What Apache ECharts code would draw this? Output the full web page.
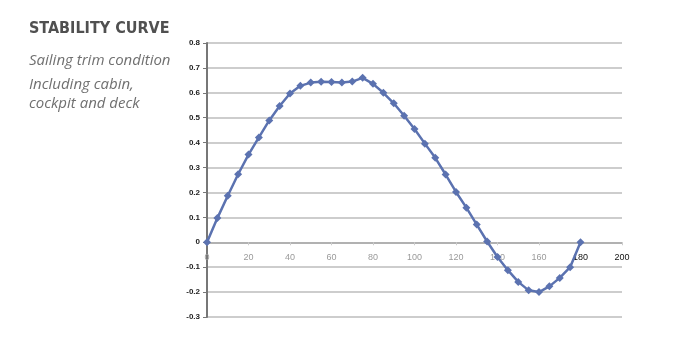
<!DOCTYPE html>
<html><head><meta charset="utf-8">
<script src="https://cdn.jsdelivr.net/npm/echarts@6/dist/echarts.min.js"></script>
<style>html,body{margin:0;padding:0;background:#fff}#c{width:696px;height:361px}</style>
</head><body><div id="c"></div>
<script>
const heelAngles = [0,5,10,15,20,25,30,35,40,45,50,55,60,65,70,75,80,85,90,95,100,105,110,115,120,125,130,135,140,145,150,155,160,165,170,175,180];
const gzValues = [0,0.097,0.187,0.273,0.352,0.421,0.489,0.547,0.597,0.628,0.641,0.644,0.643,0.641,0.645,0.660,0.636,0.600,0.558,0.508,0.455,0.396,0.339,0.272,0.202,0.139,0.071,0.003,-0.059,-0.112,-0.159,-0.193,-0.200,-0.177,-0.143,-0.100,0];
const titleText = 'STABILITY CURVE';
const subtitleLines = ['Sailing trim condition','Including cabin,','cockpit and deck'];

const gridTop = 43, gridBottom = 44, chartH = 361;
const yMin = -0.3, yMax = 0.8;
const plotH = chartH - gridTop - gridBottom;
const zeroOffset = -plotH * (0 - yMin) / (yMax - yMin);

const chart = echarts.init(document.getElementById('c'));
chart.setOption({
  animation: false,
  grid: {left: 207, right: 74, top: gridTop, bottom: gridBottom},
  graphic: [
    {type:'text', left: 29, top: 21, style:{text: titleText, font:'bold 16px "DejaVu Sans Condensed", sans-serif', fill:'#505050'}},
    {type:'text', left: 29, top: 53, style:{text: subtitleLines[0], font:'italic 15px "Open Sans", sans-serif', fill:'#707070'}},
    {type:'text', left: 29, top: 77, style:{text: subtitleLines[1], font:'italic 15px "Open Sans", sans-serif', fill:'#707070'}},
    {type:'text', left: 29, top: 96, style:{text: subtitleLines[2], font:'italic 15px "Open Sans", sans-serif', fill:'#707070'}}
  ],
  xAxis: {
    type: 'value', min: 0, max: 200, interval: 20,
    offset: zeroOffset,
    axisLine: {onZero: false, lineStyle: {color: '#a8a8a8', width: 1.5}},
    axisTick: {show: true, length: 3, lineStyle:{color:'#ccc'}},
    splitLine: {show: false},
    axisLabel: {fontSize: 9, margin: 11, fontFamily: 'Liberation Sans, sans-serif',
      color: function(v){ return v >= 180 ? '#111' : '#9a9a9a'; }}
  },
  yAxis: {
    type: 'value', min: yMin, max: yMax, interval: 0.1,
    axisLine: {show: true, lineStyle: {color: '#777', width: 2}},
    axisTick: {show: true, length: 4, lineStyle: {color: '#777'}},
    splitLine: {show: true, lineStyle: {color: '#bdbdbd', width: 1.5}},
    axisLabel: {fontSize: 8, fontWeight: 'bold', color: '#222', margin: 7, fontFamily: 'Liberation Sans, sans-serif',
      formatter: function(v){ return Math.abs(v) < 1e-9 ? '0' : v.toFixed(1); }}
  },
  series: [{
    type: 'line',
    data: heelAngles.map((a,i)=>[a, gzValues[i]]),
    symbol: 'diamond', symbolSize: 8,
    lineStyle: {color: '#5b72b0', width: 2.5},
    itemStyle: {color: '#5b72b0'}
  }]
});
</script></body></html>
